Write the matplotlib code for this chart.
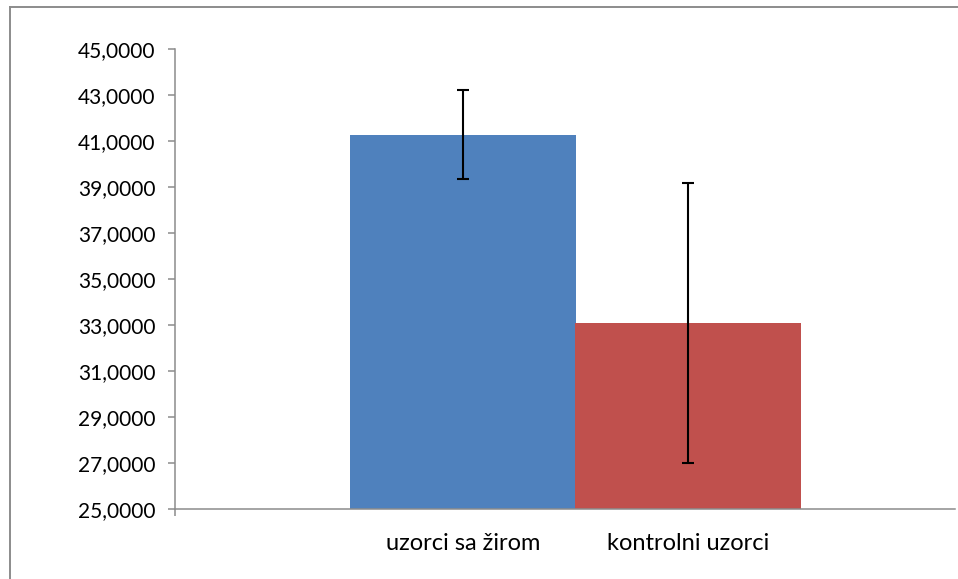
import numpy as np
import matplotlib.pyplot as plt
from matplotlib.lines import Line2D

plt.rcParams['font.family'] = ['Lato', 'DejaVu Sans']

# podaci
kategorije = ['uzorci sa žirom', 'kontrolni uzorci']
srednje = [41.26, 33.08]
gornja = [43.21, 39.17]
donja = [39.36, 27.01]
boje = ['#4F81BD', '#C0504D']
yticks = np.arange(25, 46, 2)

pozicije = [0.369, 0.658]
sirina = 0.2897

fig = plt.figure(figsize=(9.58, 5.79), dpi=100)
ax = fig.add_axes([175/958, 1-509/579, 780/958, 460/579])

yerr = [np.array(srednje) - np.array(donja), np.array(gornja) - np.array(srednje)]
ax.bar(pozicije, srednje, width=sirina, color=boje, bottom=0)
ax.errorbar(pozicije, srednje, yerr=yerr, fmt='none', ecolor='black',
            elinewidth=1.5, capsize=4.5, capthick=1.5)

ax.set_ylim(25, 45)
ax.set_xlim(0, 1)
ax.set_yticks(yticks)
ax.set_yticklabels([('%.4f' % v).replace('.', ',') for v in yticks])

ax.set_xticks([0])
ax.set_xticklabels([])
ax.set_xticks(pozicije, minor=True)
ax.set_xticklabels(kategorije, minor=True)

for s in ['top', 'right']:
    ax.spines[s].set_visible(False)
for s in ['left', 'bottom']:
    ax.spines[s].set_color('#8c8c8c')
    ax.spines[s].set_linewidth(1.1)

ax.tick_params(axis='y', which='major', length=5, width=1.1, color='#8c8c8c',
               labelsize=15, pad=9, labelcolor='black')
ax.tick_params(axis='x', which='major', length=5, width=1.1, color='#8c8c8c')
ax.tick_params(axis='x', which='minor', length=0, labelsize=17, pad=17,
               labelcolor='black')

# okvir grafikona
fig.add_artist(Line2D([9.5/958, 1], [1-6.5/579, 1-6.5/579], color='#8c8c8c', lw=1.4))
fig.add_artist(Line2D([9.5/958, 9.5/958], [0, 1-6.5/579], color='#8c8c8c', lw=1.4))

fig.savefig('out.png', dpi=100)
